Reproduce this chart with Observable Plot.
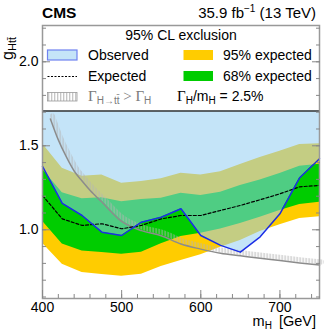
<!DOCTYPE html>
<html><head><meta charset="utf-8">
<script src="https://cdn.jsdelivr.net/npm/d3@7"></script>
<script src="https://cdn.jsdelivr.net/npm/@observablehq/plot@0.6"></script>
<style>
html,body{margin:0;padding:0;background:#fff;overflow:hidden;}
#chart{width:324px;height:335px;}
</style></head><body><div id="chart"></div>
<script>
// ---- data ----
const massPoints   = [400, 425, 450, 475, 500, 525, 550, 575, 600, 625, 650, 675, 700, 725, 750];
const observed     = [1.377, 1.157, 1.085, 0.986, 0.966, 1.045, 1.075, 1.125, 0.966, 0.907, 0.867, 0.958, 1.095, 1.310, 1.423];
const expected     = [1.204, 1.065, 1.026, 1.036, 1.006, 1.026, 1.065, 1.085, 1.085, 1.115, 1.145, 1.179, 1.214, 1.256, 1.264];
const band68Low    = [1.051, 0.915, 0.873, 0.865, 0.855, 0.866, 0.917, 0.960, 0.980, 1.004, 1.038, 1.075, 1.115, 1.151, 1.164];
const band68High   = [1.360, 1.220, 1.185, 1.190, 1.167, 1.180, 1.188, 1.218, 1.204, 1.224, 1.264, 1.296, 1.335, 1.378, 1.390];
const band95Low    = [0.920, 0.795, 0.746, 0.734, 0.724, 0.736, 0.782, 0.817, 0.852, 0.896, 0.936, 0.990, 1.030, 1.067, 1.078];
const band95High   = [1.512, 1.366, 1.318, 1.326, 1.277, 1.288, 1.304, 1.337, 1.326, 1.346, 1.388, 1.430, 1.467, 1.508, 1.512];
// width limit curve Gamma(H->tt) = Gamma_H (Gamma_H/m_H = 2.5%)
const widthMass     = [410, 420, 430, 440, 450, 460, 475, 500, 525, 550, 575, 600, 625, 650, 675, 700, 725, 750];
const widthCoupling = [1.660, 1.535, 1.435, 1.350, 1.290, 1.235, 1.165, 1.050, 0.995, 0.965, 0.915, 0.885, 0.860, 0.845, 0.830, 0.817, 0.803, 0.790];
const legendBottom = 1.707;   // lower edge of the legend box (in g units)
const xMajorTicks = [400, 500, 600, 700];
const xMinorTicks = [400, 420, 440, 460, 480, 500, 520, 540, 560, 580, 600, 620, 640, 660, 680, 700, 720, 740];
const yMajorTicks = [1.0, 1.5, 2.0];
const yMinorTicks = [0.6, 0.7, 0.8, 0.9, 1.0, 1.1, 1.2, 1.3, 1.4, 1.5, 1.6, 1.7, 1.8, 1.9, 2.0, 2.1, 2.2];

const rows = massPoints.map((m, i) => ({
  m, obs: observed[i], exp: expected[i],
  lo68: band68Low[i], hi68: band68High[i],
  lo95: band95Low[i], hi95: band95High[i],
  top: legendBottom
}));
const widthRows = widthMass.map((m, i) => ({m, g: widthCoupling[i]}));

const blank = () => "";
const plot = Plot.plot({
  width: 324, height: 335,
  marginLeft: 42, marginRight: 5, marginTop: 25, marginBottom: 37,
  x: {domain: [400, 750]},
  y: {domain: [0.591, 2.216]},
  style: {fontFamily: "'Liberation Sans', Arial, Helvetica, sans-serif", fontSize: "14px", color: "#000", background: "#fff"},
  marks: [
    Plot.areaY(rows, {x: "m", y1: "lo95", y2: "hi95", fill: "#ffcc00"}),
    Plot.areaY(rows, {x: "m", y1: "lo68", y2: "hi68", fill: "#00cc00"}),
    Plot.areaY(rows, {x: "m", y1: "obs", y2: "top", fill: "rgb(146,205,242)", fillOpacity: 0.54}),
    Plot.line(widthRows, {x: "m", y: "g", stroke: "url(#vhatch)", strokeWidth: 5, dx: 2, dy: -3, curve: "monotone-x"}),
    Plot.line(widthRows, {x: "m", y: "g", stroke: "#8c8c8c", strokeWidth: 1.5, curve: "monotone-x"}),
    Plot.line(rows, {x: "m", y: "exp", stroke: "#000", strokeWidth: 1.2, strokeDasharray: "3,2"}),
    Plot.line(rows, {x: "m", y: "obs", stroke: "#1a2ee6", strokeWidth: 1.5}),
    Plot.ruleY([legendBottom], {stroke: "#333", strokeWidth: 1.5}),
    Plot.frame({stroke: "#999", strokeWidth: 1.5}),
    Plot.axisX({ticks: xMajorTicks, tickSize: 0, tickPadding: 4, label: null, fontSize: 14}),
    Plot.axisX({ticks: xMinorTicks, tickSize: -4, tickFormat: blank, label: null, stroke: "#888"}),
    Plot.axisX({ticks: xMajorTicks, tickSize: -8, tickFormat: blank, label: null, stroke: "#888"}),
    Plot.axisY({ticks: yMajorTicks, tickSize: 0, tickPadding: 4, tickFormat: d3.format(".1f"), label: null, fontSize: 14}),
    Plot.axisY({ticks: yMinorTicks, tickSize: -4, tickFormat: blank, label: null, stroke: "#888"}),
    Plot.axisY({ticks: yMajorTicks, tickSize: -8, tickFormat: blank, label: null, stroke: "#888"}),
    Plot.axisY({anchor: "right", ticks: yMinorTicks, tickSize: -4, tickFormat: blank, label: null, stroke: "#888"}),
    Plot.axisY({anchor: "right", ticks: yMajorTicks, tickSize: -8, tickFormat: blank, label: null, stroke: "#888"})
  ]
});
document.getElementById("chart").appendChild(plot);

const svg = d3.select(plot);
const defs = svg.insert("defs", ":first-child");
const pat = defs.append("pattern").attr("id", "vhatch").attr("patternUnits", "userSpaceOnUse")
  .attr("width", 3).attr("height", 8);
pat.append("line").attr("x1", 0.75).attr("x2", 0.75).attr("y1", 0).attr("y2", 8)
  .attr("stroke", "#b4b4b4").attr("stroke-width", 1);

const serif = "'Liberation Serif', 'Times New Roman', serif";
const g = svg.append("g").attr("fill", "#000").attr("text-anchor", "start");

// header
g.append("text").attr("x", 42).attr("y", 18).attr("text-anchor", "start").attr("font-weight", "bold").attr("font-size", 15.5).text("CMS");
const lumi = g.append("text").attr("x", 316).attr("y", 18).attr("text-anchor", "end").attr("font-size", 15);
lumi.append("tspan").text("35.9 fb");
lumi.append("tspan").attr("dy", -6).attr("font-size", 10).text("\u22121");
lumi.append("tspan").attr("dy", 6).text(" (13 TeV)");

// y label
const yl = g.append("text").attr("transform", "translate(13,37) rotate(-90)").attr("text-anchor", "end").attr("font-size", 16);
yl.append("tspan").text("g");
yl.append("tspan").attr("dy", 3).attr("font-size", 11).text("Ht\u0074\u0304");

// x label
const xl = g.append("text").attr("x", 316).attr("y", 326).attr("text-anchor", "end").attr("font-size", 14.5);
xl.append("tspan").text("m");
xl.append("tspan").attr("dy", 3).attr("font-size", 10).text("H");
xl.append("tspan").attr("dy", -3).attr("dx", 7).text("[GeV]");

// legend
const lg = svg.append("g").attr("font-size", 14).attr("text-anchor", "start");
lg.append("text").attr("x", 181).attr("y", 40).attr("text-anchor", "middle").text("95% CL exclusion");
lg.append("rect").attr("x", 47.5).attr("y", 50).attr("width", 29.5).attr("height", 10)
  .attr("fill", "rgb(196,228,248)").attr("stroke", "#6f82f0").attr("stroke-width", 1.2);
lg.append("text").attr("x", 88).attr("y", 60).text("Observed");
lg.append("line").attr("x1", 47.5).attr("x2", 77).attr("y1", 76.5).attr("y2", 76.5)
  .attr("stroke", "#000").attr("stroke-width", 1).attr("stroke-dasharray", "2,1.5");
lg.append("text").attr("x", 88).attr("y", 81).text("Expected");
lg.append("rect").attr("x", 47.5).attr("y", 92.5).attr("width", 29.5).attr("height", 8.5)
  .attr("fill", "url(#vhatch)").attr("stroke", "#9a9a9a").attr("stroke-width", 0.8);
const gt = lg.append("text").attr("x", 88).attr("y", 100.5).attr("fill", "#7a7a7a");
gt.append("tspan").attr("font-family", serif).attr("font-size", 15).text("\u0393");
gt.append("tspan").attr("dy", 3).attr("font-size", 10).text("H\u2192t\u0074\u0304");
gt.append("tspan").attr("dy", -3).attr("font-family", serif).attr("font-size", 15).text(" > \u0393");
gt.append("tspan").attr("dy", 3).attr("font-size", 10).text("H");

lg.append("rect").attr("x", 183.5).attr("y", 50).attr("width", 29.5).attr("height", 10).attr("fill", "#ffcc00");
lg.append("text").attr("x", 223).attr("y", 60).text("95% expected");
lg.append("rect").attr("x", 183.5).attr("y", 71).attr("width", 29.5).attr("height", 10).attr("fill", "#00cc00");
lg.append("text").attr("x", 223).attr("y", 81).text("68% expected");
const gm = lg.append("text").attr("x", 177).attr("y", 101);
gm.append("tspan").attr("font-family", serif).attr("font-size", 15).text("\u0393");
gm.append("tspan").attr("dy", 3).attr("font-size", 10).text("H");
gm.append("tspan").attr("dy", -3).text("/m");
gm.append("tspan").attr("dy", 3).attr("font-size", 10).text("H");
gm.append("tspan").attr("dy", -3).text(" = 2.5%");
</script>
</body></html>
